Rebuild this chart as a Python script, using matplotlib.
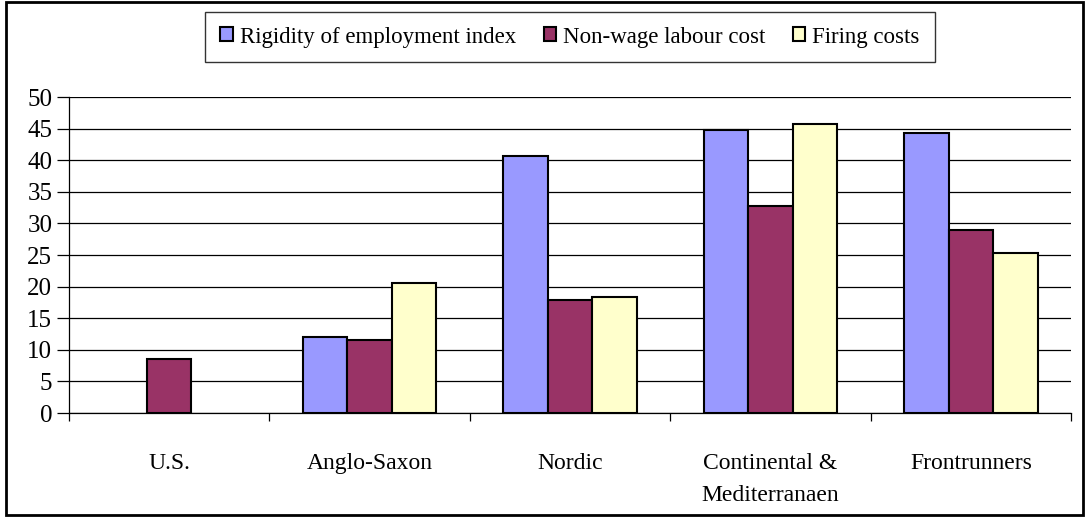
import numpy as np
import matplotlib
matplotlib.use("Agg")
import matplotlib.pyplot as plt
from matplotlib.patches import Rectangle

plt.rcParams["font.family"] = ["Liberation Serif", "DejaVu Serif"]

regions = ["U.S.", "Anglo-Saxon", "Nordic", "Continental &\nMediterranaen", "Frontrunners"]
rigidity = [np.nan, 12.0, 40.6, 44.8, 44.3]
non_wage = [8.5, 11.5, 17.9, 32.7, 28.9]
firing = [np.nan, 20.6, 18.3, 45.8, 25.3]

series = [
    ("Rigidity of employment index", rigidity, "#9999FF"),
    ("Non-wage labour cost", non_wage, "#993366"),
    ("Firing costs", firing, "#FFFFCC"),
]

W, H = 1087, 517
fig = plt.figure(figsize=(W / 100, H / 100), dpi=100)
ax = fig.add_axes([69 / W, 1 - 413 / H, (1071 - 69) / W, (413 - 97) / H])

x = np.arange(len(regions))
bw = 0.222
for i, (name, vals, color) in enumerate(series):
    ax.bar(x + (i - 1) * bw, vals, width=bw, color=color, edgecolor="black",
           linewidth=1.5, label=name, zorder=3)

ax.set_xlim(-0.5, len(regions) - 0.5)
ax.set_ylim(0, 50)
ax.set_yticks(np.arange(0, 51, 5))
ax.yaxis.grid(True, color="black", linewidth=0.9, zorder=0)
ax.set_axisbelow(True)

ax.set_xticks(x)
ax.set_xticklabels(regions, linespacing=1.7, va="top")
ax.set_xticks(np.arange(-0.5, len(regions), 1.0), minor=True)
ax.tick_params(axis="x", which="major", length=0, pad=29, labelsize=17)
ax.tick_params(axis="x", which="minor", length=6, width=0.9)
ax.tick_params(axis="y", length=9, width=0.9, pad=3, labelsize=18)

for side in ("top", "right"):
    ax.spines[side].set_visible(False)
ax.spines["left"].set_linewidth(0.9)
ax.spines["bottom"].set_linewidth(0.9)

leg = fig.legend(loc="center", bbox_to_anchor=(570 / W, 1 - 37 / H), ncol=3,
                 fontsize=16.5, frameon=True, fancybox=False, edgecolor="black",
                 handlelength=0.55, handleheight=0.55, handletextpad=0.3,
                 columnspacing=1.2, borderpad=0.65)
leg.get_frame().set_linewidth(1.0)

# outer border around the whole chart
fig.patches.append(Rectangle((6 / W, 2 / H), (1083 - 6) / W, (515 - 2) / H,
                             transform=fig.transFigure, fill=False,
                             edgecolor="black", linewidth=2))

fig.savefig("out.png", dpi=100)
